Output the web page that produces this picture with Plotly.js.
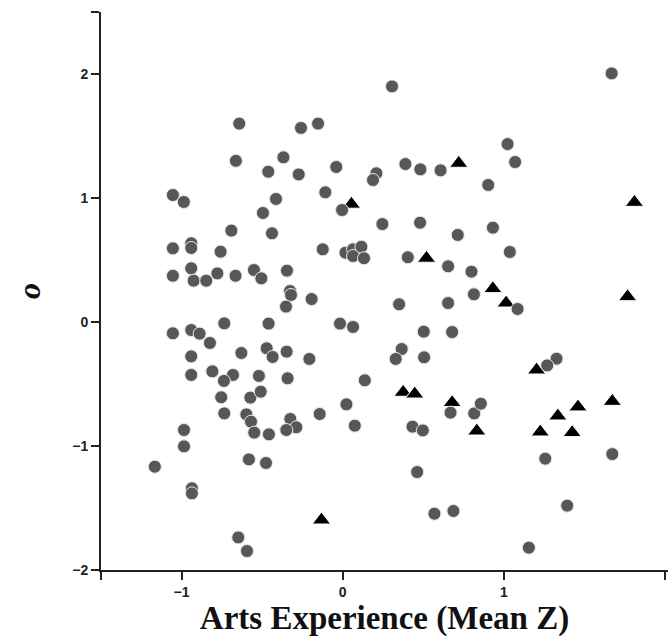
<!DOCTYPE html>
<html>
<head>
<meta charset="utf-8">
<script src="https://cdn.plot.ly/plotly-3.0.1.min.js"></script>
<style>html,body{margin:0;padding:0;background:#fff;}#chart{width:668px;height:637px;}</style>
</head>
<body>
<div id="chart"></div>
<script>
// Group 1 (gray circles)
var circleX = [0.306,-0.642,-0.259,-0.153,-0.663,-0.368,-0.462,-0.273,-0.04,0.209,0.188,-0.108,-1.054,-0.986,-0.414,
1.669,1.023,1.07,0.389,0.482,0.607,0.903,-0.495,-0.004,0.246,-0.691,-0.439,-1.054,-0.94,-0.94,
-0.758,-0.124,0.017,0.064,0.116,0.064,0.132,-1.054,-0.94,-0.925,-0.847,-0.778,-0.665,-0.551,-0.505,
-0.346,-0.327,-0.321,-0.193,-0.352,-1.054,-0.94,-0.888,-0.735,-0.46,-0.017,0.064,-0.824,-0.94,-0.629,
-0.472,-0.435,-0.348,-0.207,-0.94,-0.809,-0.681,-0.737,-0.52,-0.342,0.137,0.48,0.714,0.932,1.037,
0.404,0.654,0.799,1.085,0.814,0.654,0.35,0.503,0.679,0.366,0.329,0.505,1.327,1.269,-0.754,
-0.573,-0.509,-0.735,-0.598,-0.569,-0.549,-0.458,-0.325,-0.288,-0.35,-0.143,0.023,0.075,-0.985,-0.985,
-1.166,-0.936,-0.936,-0.582,-0.476,-0.648,-0.594,0.433,0.497,0.462,0.669,0.816,0.857,0.569,0.687,
1.673,1.257,1.393,1.155];
var circleY = [1.90,1.60,1.565,1.60,1.30,1.328,1.212,1.19,1.25,1.199,1.145,1.046,1.024,0.968,0.992,
2.005,1.435,1.29,1.274,1.231,1.223,1.105,0.879,0.903,0.79,0.737,0.715,0.594,0.635,0.597,
0.567,0.586,0.559,0.586,0.607,0.532,0.514,0.373,0.433,0.333,0.333,0.392,0.373,0.419,0.352,
0.414,0.25,0.218,0.185,0.124,-0.091,-0.065,-0.094,-0.011,-0.013,-0.013,-0.04,-0.169,-0.277,-0.25,
-0.212,-0.282,-0.239,-0.298,-0.427,-0.398,-0.427,-0.475,-0.435,-0.454,-0.47,0.801,0.702,0.761,0.565,
0.522,0.449,0.406,0.105,0.223,0.153,0.143,-0.078,-0.081,-0.218,-0.298,-0.285,-0.296,-0.35,-0.607,
-0.61,-0.562,-0.737,-0.745,-0.804,-0.892,-0.906,-0.782,-0.849,-0.871,-0.742,-0.664,-0.836,-0.871,-1.003,
-1.167,-1.341,-1.382,-1.108,-1.137,-1.737,-1.847,-0.844,-0.874,-1.21,-0.731,-0.737,-0.659,-1.546,-1.524,
-1.065,-1.102,-1.481,-1.82];

// Group 2 (black triangles)
var triX = [0.054,0.72,0.52,0.932,1.014,1.81,1.768,1.203,0.375,0.447,0.679,0.832,1.226,1.335,1.46,1.424,1.673,-0.132];
var triY = [0.95,1.28,0.514,0.269,0.153,0.965,0.204,-0.387,-0.567,-0.581,-0.65,-0.879,-0.887,-0.758,-0.685,-0.892,-0.64,-1.597];

var xTickVals = [-1.5,-1,0,1,2];
var xTickText = ['','\u22121','0','1','2'];
var yTickVals = [-2,-1,0,1,2,2.5];
var yTickText = ['\u22122','\u22121','0','1','2',''];

var traces = [
  {x: triX, y: triY, type: 'scatter', mode: 'markers', name: 'Group 2',
   marker: {symbol: 'triangle-up', size: 16, color: '#000000', line: {color: '#ffffff', width: 1}}},
  {x: circleX, y: circleY, type: 'scatter', mode: 'markers', name: 'Group 1',
   marker: {symbol: 'circle', size: 13, color: '#575757', line: {color: '#e8e8e8', width: 1}}}
];

var tickFont = {family: 'Liberation Sans, Arial, sans-serif', size: 14, color: '#222222', weight: 'bold'};

var layout = {
  width: 668, height: 637,
  margin: {l: 101, r: 0, t: 12, b: 67, pad: 0},
  paper_bgcolor: '#ffffff', plot_bgcolor: '#ffffff',
  showlegend: false,
  xaxis: {
    range: [-1.5, 2.0186], showgrid: false, zeroline: false,
    showline: true, linecolor: '#222222', linewidth: 2,
    ticks: 'outside', ticklen: 8, tickwidth: 2, tickcolor: '#222222',
    tickmode: 'array', tickvals: xTickVals, ticktext: xTickText,
    tickfont: tickFont,
    title: {text: 'Arts Experience (Mean Z)', standoff: 9,
      font: {family: 'Liberation Serif, Times New Roman, serif', size: 33, color: '#111111', weight: 'bold'}}
  },
  yaxis: {
    range: [-2, 2.5], showgrid: false, zeroline: false,
    showline: true, linecolor: '#222222', linewidth: 2,
    ticks: 'outside', ticklen: 8, tickwidth: 2, tickcolor: '#222222',
    tickmode: 'array', tickvals: yTickVals, ticktext: yTickText,
    tickfont: tickFont,
    title: {text: '<i>o</i>', standoff: 22,
      font: {family: 'Liberation Serif, Times New Roman, serif', size: 32, color: '#111111', weight: 'bold'}}
  }
};

Plotly.newPlot('chart', traces, layout, {displayModeBar: false, staticPlot: true});
</script>
</body>
</html>
